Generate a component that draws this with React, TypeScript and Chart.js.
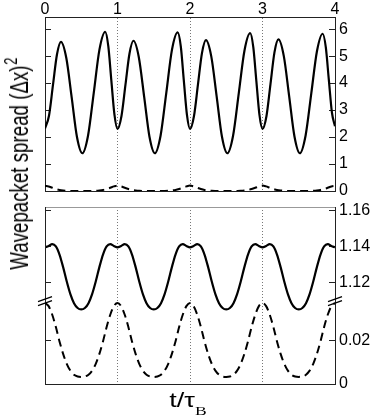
import React, { useEffect, useRef } from 'react';
import { Chart, registerables } from 'chart.js';

Chart.register(...registerables);

const FONT = '"Liberation Sans", Arial, Helvetica, sans-serif';

// ---------- data ----------
const xTicks = [0, 1, 2, 3, 4];
const topYTicks = [0, 1, 2, 3, 4, 5, 6];
const upperTicks = [1.12, 1.14, 1.16];
const lowerTicks = [0, 0.02];

const topTime = [
  0, 0.055, 0.11, 0.165, 0.22, 0.294, 0.368, 0.441, 0.515, 0.594, 0.673, 0.751, 0.83, 0.873, 0.915, 0.958,
  1, 1.055, 1.11, 1.165, 1.22, 1.294, 1.368, 1.441, 1.515, 1.594, 1.673, 1.751, 1.83, 1.873, 1.915, 1.958,
  2, 2.055, 2.11, 2.165, 2.22, 2.294, 2.368, 2.441, 2.515, 2.594, 2.673, 2.751, 2.83, 2.873, 2.915, 2.958,
  3, 3.055, 3.11, 3.165, 3.22, 3.294, 3.368, 3.441, 3.515, 3.594, 3.673, 3.751, 3.83, 3.873, 3.915, 3.958,
  4,
];
const topSolid = [
  2.32, 2.79, 3.93, 5.06, 5.53, 4.93, 3.47, 2.0, 1.4, 2.06, 3.65, 5.24, 5.9, 5.37, 4.1, 2.83,
  2.3, 2.78, 3.94, 5.09, 5.57, 4.96, 3.49, 2.01, 1.4, 2.05, 3.64, 5.23, 5.88, 5.36, 4.09, 2.82,
  2.3, 2.78, 3.95, 5.11, 5.59, 4.98, 3.5, 2.01, 1.4, 2.05, 3.63, 5.2, 5.85, 5.33, 4.08, 2.82,
  2.3, 2.78, 3.96, 5.14, 5.62, 5.0, 3.51, 2.02, 1.4, 2.05, 3.62, 5.18, 5.83, 5.33, 4.12, 2.9,
  2.4,
];

const fineTime = [
  0, 0.05, 0.1, 0.15, 0.2, 0.25, 0.3, 0.35, 0.4, 0.45, 0.5, 0.55, 0.6, 0.65, 0.7, 0.75, 0.8, 0.85, 0.9, 0.95,
  1, 1.05, 1.1, 1.15, 1.2, 1.25, 1.3, 1.35, 1.4, 1.45, 1.5, 1.55, 1.6, 1.65, 1.7, 1.75, 1.8, 1.85, 1.9, 1.95,
  2, 2.05, 2.1, 2.15, 2.2, 2.25, 2.3, 2.35, 2.4, 2.45, 2.5, 2.55, 2.6, 2.65, 2.7, 2.75, 2.8, 2.85, 2.9, 2.95,
  3, 3.05, 3.1, 3.15, 3.2, 3.25, 3.3, 3.35, 3.4, 3.45, 3.5, 3.55, 3.6, 3.65, 3.7, 3.75, 3.8, 3.85, 3.9, 3.95,
  4,
];
const topDashed = [
  0.19, 0.17, 0.12, 0.075, 0.04, 0.02, 0.008, 0.003, 0.001, 0, 0, 0, 0.001, 0.003, 0.008, 0.02, 0.04, 0.075, 0.12, 0.17,
  0.2, 0.17, 0.12, 0.075, 0.04, 0.02, 0.008, 0.003, 0.001, 0, 0, 0, 0.001, 0.003, 0.008, 0.02, 0.04, 0.075, 0.12, 0.17,
  0.2, 0.17, 0.12, 0.075, 0.04, 0.02, 0.008, 0.003, 0.001, 0, 0, 0, 0.001, 0.003, 0.008, 0.02, 0.04, 0.075, 0.12, 0.17,
  0.2, 0.17, 0.12, 0.075, 0.04, 0.02, 0.008, 0.003, 0.001, 0, 0, 0, 0.001, 0.003, 0.008, 0.02, 0.04, 0.075, 0.12, 0.17,
  0.19,
];
const bottomSolid = [
  1.1395, 1.1403, 1.1413, 1.14, 1.1355, 1.1285, 1.1205, 1.1135, 1.1085, 1.1058, 1.105, 1.1058, 1.1085, 1.1135, 1.1205, 1.1285, 1.1355, 1.14, 1.1413, 1.1403,
  1.1395, 1.1403, 1.1413, 1.14, 1.1355, 1.1285, 1.1205, 1.1135, 1.1085, 1.1058, 1.105, 1.1058, 1.1085, 1.1135, 1.1205, 1.1285, 1.1355, 1.14, 1.1413, 1.1403,
  1.1395, 1.1403, 1.1413, 1.14, 1.1355, 1.1285, 1.1205, 1.1135, 1.1085, 1.1058, 1.105, 1.1058, 1.1085, 1.1135, 1.1205, 1.1285, 1.1355, 1.14, 1.1413, 1.1403,
  1.1395, 1.1403, 1.1413, 1.14, 1.1355, 1.1285, 1.1205, 1.1135, 1.1085, 1.1058, 1.105, 1.1058, 1.1085, 1.1135, 1.1205, 1.1285, 1.1355, 1.14, 1.1413, 1.1403,
  1.1395,
];
const bottomDashed = [
  0.0377, 0.0362, 0.0322, 0.0265, 0.0198, 0.014, 0.0094, 0.0062, 0.0043, 0.0035, 0.0033, 0.0035, 0.0043, 0.0062, 0.0094, 0.014, 0.0198, 0.0265, 0.0322, 0.0362,
  0.0377, 0.0362, 0.0322, 0.0265, 0.0198, 0.014, 0.0094, 0.0062, 0.0043, 0.0035, 0.0033, 0.0035, 0.0043, 0.0062, 0.0094, 0.014, 0.0198, 0.0265, 0.0322, 0.0362,
  0.0377, 0.0362, 0.0322, 0.0265, 0.0198, 0.014, 0.0094, 0.0062, 0.0043, 0.0035, 0.0033, 0.0035, 0.0043, 0.0062, 0.0094, 0.014, 0.0198, 0.0265, 0.0322, 0.0362,
  0.0377, 0.0362, 0.0322, 0.0265, 0.0198, 0.014, 0.0094, 0.0062, 0.0043, 0.0035, 0.0033, 0.0035, 0.0043, 0.0062, 0.0094, 0.014, 0.0198, 0.0265, 0.0322, 0.0362,
  0.0377,
];
const breakValue = 0.039;

// ---------- helpers ----------
const pts = (xs: number[], ys: number[]) => xs.map((x, i) => ({ x, y: ys[i] }));
const fixedTicks = (vals: number[]) => (s: any) => {
  s.ticks = vals.map((v) => ({ value: v }));
};
const fitW = (w: number) => (s: any) => {
  s.width = w;
  s.paddingLeft = 0; s.paddingRight = 0; s.paddingTop = 0; s.paddingBottom = 0;
};
const fitH = (h: number) => (s: any) => {
  s.height = h;
  s.paddingLeft = 0; s.paddingRight = 0; s.paddingTop = 0; s.paddingBottom = 0;
};
const tickFont = { family: FONT, size: 16 };
const FRAME = '#222';

const solidLine = (data: any, yAxisID: string) => ({
  data,
  xAxisID: 'x',
  yAxisID,
  borderColor: '#000',
  borderWidth: 2.2,
  pointRadius: 0,
  tension: 0.4,
  cubicInterpolationMode: 'monotone' as const,
  borderJoinStyle: 'round' as const,
  fill: false,
});
const dashedLine = (data: any, yAxisID: string) => ({
  ...solidLine(data, yAxisID),
  borderWidth: 2,
  borderDash: [8, 5],
});

const innerTickAxis = (position: string, min: number, max: number, ticks: number[]) => ({
  type: 'linear' as const,
  axis: 'y' as const,
  position,
  min,
  max,
  afterBuildTicks: fixedTicks(ticks),
  afterFit: fitW(0),
  ticks: { display: false },
  grid: { display: true, drawOnChartArea: false, drawTicks: true, tickLength: -6, color: FRAME, lineWidth: 1 },
  border: { display: true, color: FRAME, width: 1 },
});

const labelAxis = (min: number, max: number, ticks: number[], fmt: (v: number) => string) => ({
  type: 'linear' as const,
  axis: 'y' as const,
  position: 'right',
  min,
  max,
  afterBuildTicks: fixedTicks(ticks),
  afterFit: fitW(39),
  ticks: { font: tickFont, color: '#000', padding: 10, callback: (v: any) => fmt(Number(v)) },
  grid: { display: true, drawOnChartArea: false, drawTicks: true, tickLength: -6, color: FRAME, lineWidth: 1 },
  border: { display: true, color: FRAME, width: 1 },
});

const hiddenX = (position: string, h: number) => ({
  type: 'linear' as const,
  axis: 'x' as const,
  position,
  min: 0,
  max: 4,
  afterFit: fitH(h),
  ticks: { display: false },
  grid: { display: false },
  border: { display: false },
});

const breakPlugin = {
  id: 'axisBreaks',
  afterDraw(chart: any) {
    const { ctx, chartArea } = chart;
    const y = chart.scales.yD.getPixelForValue(breakValue);
    ctx.save();
    ctx.strokeStyle = '#000';
    ctx.lineWidth = 1.2;
    for (const x of [chartArea.left, chartArea.right]) {
      for (const dy of [-1, 3]) {
        ctx.beginPath();
        ctx.moveTo(x - 7, y + dy + 2.5);
        ctx.lineTo(x + 7, y + dy - 2.5);
        ctx.stroke();
      }
    }
    ctx.restore();
  },
};

export default function App() {
  const topRef = useRef<HTMLCanvasElement>(null);
  const botARef = useRef<HTMLCanvasElement>(null);
  const botBRef = useRef<HTMLCanvasElement>(null);

  useEffect(() => {
    const common = {
      animation: false as const,
      responsive: false,
      events: [] as any[],
      plugins: { legend: { display: false }, tooltip: { enabled: false }, title: { display: false } },
    };
    const botPadding = { left: 45, right: 0, top: 10, bottom: 13 };

    const top = new Chart(topRef.current!, {
      type: 'line',
      data: {
        datasets: [
          solidLine(pts(topTime, topSolid), 'y'),
          dashedLine(pts(fineTime, topDashed), 'y'),
        ],
      },
      options: {
        ...common,
        layout: { padding: { left: 45, right: 0, top: 0, bottom: 9 } },
        scales: {
          x: {
            type: 'linear',
            position: 'top',
            min: 0,
            max: 4,
            afterBuildTicks: fixedTicks(xTicks),
            afterFit: fitH(17),
            ticks: { font: tickFont, color: '#000', padding: -2, maxRotation: 0, autoSkip: false, callback: (v: any) => String(v) },
            grid: { display: true, drawTicks: false, color: '#777', lineWidth: 1 },
            border: { display: true, color: FRAME, width: 1, dash: [1, 2] },
          },
          xb: {
            type: 'linear',
            axis: 'x',
            position: 'bottom',
            min: 0,
            max: 4,
            afterFit: fitH(0),
            ticks: { display: false },
            grid: { display: false },
            border: { display: true, color: FRAME, width: 1 },
          },
          y: labelAxis(0, 6.45, topYTicks, (v) => String(v)),
          yl: innerTickAxis('left', 0, 6.45, topYTicks),
        } as any,
      },
    } as any);

    // bottom panel, upper scale (solid curve) with the frame and grid
    const botA = new Chart(botARef.current!, {
      type: 'line',
      data: { datasets: [solidLine(pts(fineTime, bottomSolid), 'yU')] },
      options: {
        ...common,
        layout: { padding: botPadding },
        scales: {
          x: {
            type: 'linear',
            position: 'bottom',
            min: 0,
            max: 4,
            afterBuildTicks: fixedTicks(xTicks),
            afterFit: fitH(0),
            ticks: { display: false },
            grid: { display: true, drawTicks: false, color: '#777', lineWidth: 1 },
            border: { display: true, color: FRAME, width: 1, dash: [1, 2] },
          },
          xt: {
            type: 'linear',
            axis: 'x',
            position: 'top',
            min: 0,
            max: 4,
            afterFit: fitH(0),
            ticks: { display: false },
            grid: { display: false },
            border: { display: true, color: '#999', width: 1 },
          },
          yU: labelAxis(1.0636, 1.1619, upperTicks, (v) => v.toFixed(2)),
          yUl: innerTickAxis('left', 1.0636, 1.1619, upperTicks),
        } as any,
      },
    } as any);

    // bottom panel, lower scale (dashed curve), same layout, overlaid
    const botB = new Chart(botBRef.current!, {
      type: 'line',
      data: { datasets: [dashedLine(pts(fineTime, bottomDashed), 'yD')] },
      options: {
        ...common,
        layout: { padding: botPadding },
        scales: {
          x: hiddenX('bottom', 0),
          xt: hiddenX('top', 0),
          yD: labelAxis(0, 0.0823, lowerTicks, (v) => (v === 0 ? '0' : v.toFixed(2))),
          yDl: innerTickAxis('left', 0, 0.0823, lowerTicks),
        } as any,
      },
      plugins: [breakPlugin],
    } as any);

    return () => {
      top.destroy();
      botA.destroy();
      botB.destroy();
    };
  }, []);

  return (
    <div style={{ position: 'absolute', left: 0, top: 0, width: 374, height: 420, background: '#fff', overflow: 'hidden' }}>
      <canvas ref={topRef} width={374} height={200} style={{ position: 'absolute', left: 0, top: 0, display: 'block' }} />
      <canvas ref={botARef} width={374} height={200} style={{ position: 'absolute', left: 0, top: 197, display: 'block' }} />
      <canvas ref={botBRef} width={374} height={200} style={{ position: 'absolute', left: 0, top: 197, display: 'block' }} />
      <div
        style={{
          position: 'absolute',
          left: 18.6,
          top: 164,
          transform: 'translate(-50%, -50%) rotate(-90deg) scaleX(0.72)',
          fontFamily: FONT,
          fontSize: 26,
          lineHeight: 1,
          whiteSpace: 'nowrap',
          color: '#000',
        }}
      >
        Wavepacket spread (Δx)
        <span style={{ fontSize: 18, position: 'relative', top: -11, left: 1 }}>2</span>
      </div>
      <div
        style={{
          position: 'absolute',
          left: 188,
          top: 390,
          transform: 'translateX(-50%) scaleX(1.35)',
          fontFamily: FONT,
          fontSize: 20,
          lineHeight: 1,
          whiteSpace: 'nowrap',
          color: '#000',
        }}
      >
        t/τ
        <span style={{ fontFamily: '"Liberation Serif", "DejaVu Serif", serif', fontSize: 13, position: 'relative', top: 8 }}>B</span>
      </div>
    </div>
  );
}
